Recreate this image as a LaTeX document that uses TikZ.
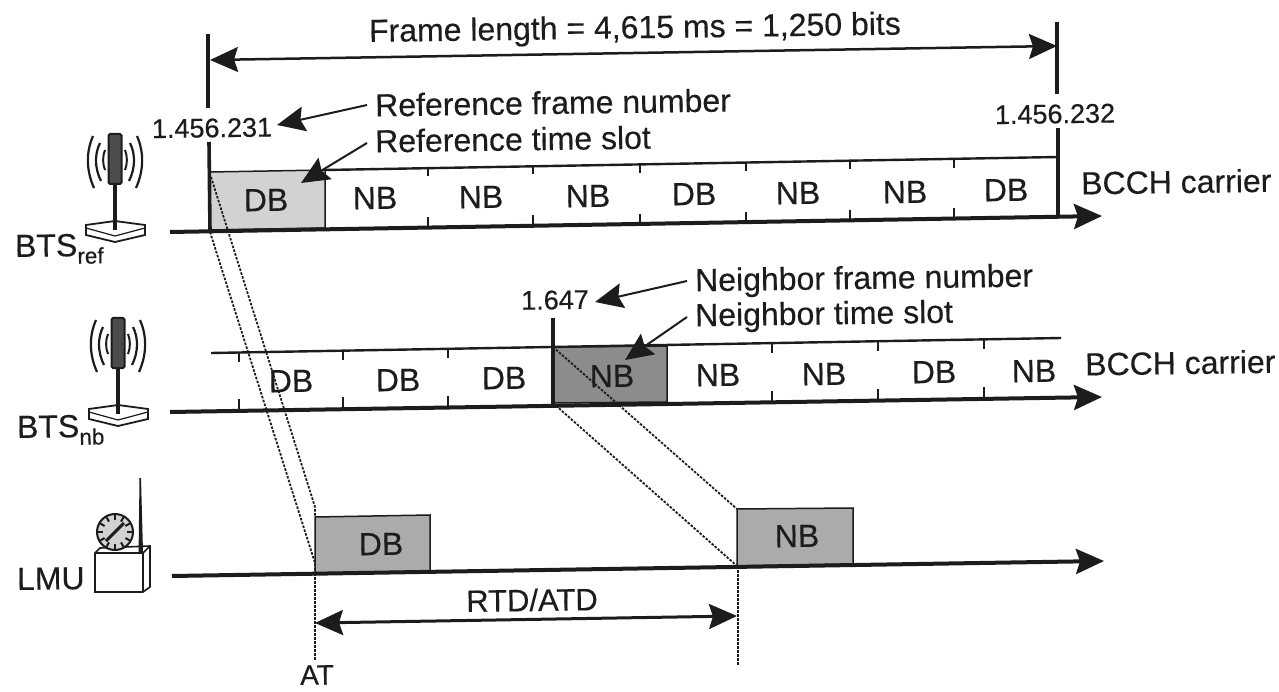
\documentclass[tikz,border=0pt]{standalone}
\usepackage{fontspec}
\setmainfont{Liberation Sans}
\newfontfamily\inkfont[FakeBold=0.3]{Liberation Sans}
\usetikzlibrary{arrows.meta}
\definecolor{ink}{HTML}{1C1C1C}
\definecolor{slotlight}{HTML}{D2D2D2}
\definecolor{slotdark}{HTML}{8C8C8C}
\definecolor{slotmid}{HTML}{ABABAB}
\tikzset{
  lbl/.style={inner sep=0pt,text=ink,rotate=0.8,font=\inkfont\fontsize{32}{32}\selectfont},
  num/.style={inner sep=0pt,text=ink,rotate=0.8,font=\inkfont\fontsize{27}{27}\selectfont},
  bigtip/.style={-{Stealth[length=28pt,width=25pt,inset=4pt]}},
  axis/.style={draw=ink,line width=4pt,bigtip},
  dim/.style={draw=ink,line width=2.5pt},
  bar/.style={draw=ink,line width=3.6pt},
  rail/.style={draw=ink,line width=2.4pt},
  tick/.style={draw=ink,line width=1.8pt},
  dots/.style={draw=ink,line width=1.8pt,dash pattern=on 2.5pt off 1.5pt},
  pointer/.style={draw=ink,line width=2pt,bigtip},
  pics/mast/.style={code={
    \draw[draw=ink,line width=1.8pt,fill=white] (-29,65)--(0,61)--(30,65)--(30,75)--(0,82)--(-29,75)--cycle;
    \draw[draw=ink,line width=1.2pt] (-29,68)--(0,76)--(30,68);
    \draw[ink,line width=3.8pt] (0,24)--(0,70);
    \draw[draw=ink,fill=gray!60!black,line width=2pt,rounded corners=1.5pt] (-6.5,-26) rectangle (6.5,24);
    \foreach \s in {-1,1}{
      \draw[ink,line width=2.2pt] (\s*22,-24) .. controls (\s*29,-8) and (\s*29,10) .. (\s*21,28);
      \draw[ink,line width=2.2pt] (\s*15,-17) .. controls (\s*20.5,-6) and (\s*20.5,8) .. (\s*14,21);
      \draw[ink,line width=2pt] (\s*10,-10) .. controls (\s*12.5,-4) and (\s*12.5,4) .. (\s*10,10);
    }
  }}
}
\begin{document}
\begin{tikzpicture}[x=1pt,y=-1pt]
\useasboundingbox (0,0) rectangle (1279,692);
\fill[white] (0,0) rectangle (1279,692);

% gray slots
\filldraw[fill=slotlight,draw=ink,line width=1.5pt] (210,172)--(325,170)--(325,228)--(210,230)--cycle;
\filldraw[fill=slotdark,draw=ink,line width=1.5pt] (553,347)--(667,346)--(667,402)--(553,403)--cycle;
\filldraw[fill=slotmid,draw=ink,line width=1.5pt] (315,517)--(430,515)--(430,571)--(315,573)--cycle;
\filldraw[fill=slotmid,draw=ink,line width=1.5pt] (737,509)--(853,508)--(853,564)--(737,566)--cycle;

% named anchor points
\coordinate (topL) at (210,60);
\coordinate (topR) at (1057,46);
\coordinate (a1s) at (170,232);  \coordinate (a1e) at (1102,216);
\coordinate (a2s) at (170,412);  \coordinate (a2e) at (1102,397);
\coordinate (a3s) at (172,576);  \coordinate (a3e) at (1104,561);
\coordinate (rtdL) at (315,623); \coordinate (rtdR) at (737,616);

% frame bars
\draw[bar] (208,34)--(208,108);
\draw[bar] (209,142)--(210,231);
\draw[bar] (1057,22)--(1057,94);
\draw[bar] (1058,128)--(1058,217);
\draw[bar] (553,318)--(553,405);

% slot rails
\draw[rail] (325,170)--(1058,157);
\draw[rail] (211,353)--(1061,338);

% ticks, reference carrier
\foreach \x/\t/\b in {428/167/176,533/165/174,640/164/173,746/162/171,850/160/169,954/158/168}{
  \draw[tick] (\x,\t)--(\x,\b);
}
\foreach \x/\t/\b in {428/217/226,533/215/224,640/214/223,746/212/221,850/210/219,954/208/217}{
  \draw[tick] (\x,\t)--(\x,\b);
}
% ticks, neighbour carrier
\foreach \x/\t/\b in {239/352/362,343/350/360,448/348/358,772/344/353,878/342/351,984/340/349}{
  \draw[tick] (\x,\t)--(\x,\b);
}
\foreach \x/\t/\b in {239/399/409,343/397/407,448/396/406,772/391/401,878/389/399,984/387/397}{
  \draw[tick] (\x,\t)--(\x,\b);
}

% propagation lines
\coordinate (r1) at (211,177); \coordinate (r1k) at (315,507); \coordinate (r1e) at (315,517);
\coordinate (r2) at (210,232); \coordinate (r2k) at (315,563); \coordinate (r2e) at (315,573);
\coordinate (n1) at (553,347); \coordinate (n1e) at (737,509);
\coordinate (n2) at (553,403); \coordinate (n2e) at (737,566);
\draw[dots] (r1)--(r1k)--(r1e);
\draw[dots] (r2)--(r2k)--(r2e);
\draw[dots] (n1)--(n1e);
\draw[dots] (n2)--(n2e);
\draw[dots] (315,573)--(315,660);
\draw[dots] (738,566)--(738,665);

% axes and dimension arrows
\draw[axis] (a1s)--(a1e);
\draw[axis] (a2s)--(a2e);
\draw[axis] (a3s)--(a3e);
\draw[dim,{Stealth[length=28pt,width=25pt,inset=4pt]}-{Stealth[length=28pt,width=25pt,inset=4pt]}] (topL)--(topR);
\draw[draw=ink,line width=3pt,{Stealth[length=28pt,width=25pt,inset=4pt]}-{Stealth[length=28pt,width=25pt,inset=4pt]}] (rtdL)--(rtdR);

% labels
\node[lbl] (frame) at (635,30) {Frame length = 4,615 ms = 1,250 bits};
\node[num] (n231) at (212,128) {1.456.231};
\node[num] (n232) at (1055,114) {1.456.232};
\node[lbl,anchor=west] (rfn) at (375,105) {Reference frame number};
\node[lbl,anchor=west] (rts) at (375,141) {Reference time slot};
\node[lbl,anchor=west] (nfn) at (695,283) {Neighbor frame number};
\node[lbl,anchor=west] (nts) at (695,318) {Neighbor time slot};
\node[num] (n647) at (555,300) {1.647};
\node[lbl,anchor=west] (bc1) at (1081,183) {BCCH carrier};
\node[lbl,anchor=west] (bc2) at (1085,364) {BCCH carrier};
\node[lbl,font=\inkfont\fontsize{31}{31}\selectfont] (rtd) at (532,600) {RTD/ATD};
\node[lbl,font=\inkfont\fontsize{28}{28}\selectfont] (at) at (317,675) {AT};
\node[lbl,anchor=base west] (lmu) at (17,590) {LMU};
\node[lbl,anchor=base west] (bref) at (15,257) {BTS\textsubscript{ref}};
\node[lbl,anchor=base west] (bnb) at (17,438) {BTS\textsubscript{nb}};

% slot labels
\foreach \n/\t/\x/\y in {s1/DB/266/200,s2/NB/375/198,s3/NB/481/197,s4/NB/588/196,s5/DB/694/194,s6/NB/798/193,s7/NB/905/192,s8/DB/1006/190,
  t1/DB/291/381,t2/DB/398/380,t3/DB/504/378,t4/NB/612/376,t5/NB/718/375,t6/NB/824/374,t7/DB/934/372,t8/NB/1034/371,
  u1/DB/381/544,u2/NB/797/536}{
  \node[lbl] (\n) at (\x,\y) {\t};
}

% callout arrows
\coordinate (tipa) at (277,125); \coordinate (tipb) at (301,183);
\coordinate (tipc) at (595,302); \coordinate (tipd) at (625,360);
\draw[pointer] (rfn.west)++(-8,0) -- (tipa);
\draw[pointer] (rts.west)++(-8,2) -- (tipb);
\draw[pointer] (nfn.west)++(-8,-2) -- (tipc);
\draw[pointer] (nts.west)++(-8,-1) -- (tipd);

% base stations
\pic at (115,160) {mast};
\pic at (118,344) {mast};

% LMU
\draw[draw=ink,line width=1.6pt,fill=white] (95,553)--(100,548)--(150,546)--(150,587)--(143,592)--(95,592)--cycle;
\draw[draw=ink,line width=1.6pt] (95,553)--(143,553)--(150,546);
\draw[draw=ink,line width=1.6pt] (143,553)--(143,592);
\draw[draw=ink,line width=2pt,fill=gray!35] (115,532) circle (18);
\foreach \a in {0,30,...,330}{
  \draw[ink,line width=2pt] (115,532)++(\a:12)--++(\a:5);
}
\draw[ink,line width=3pt] (106,541)--(124,523);
\fill[ink] (138.6,552)--(139.5,478)--(141,478)--(143,552)--cycle;
\end{tikzpicture}
\end{document}
